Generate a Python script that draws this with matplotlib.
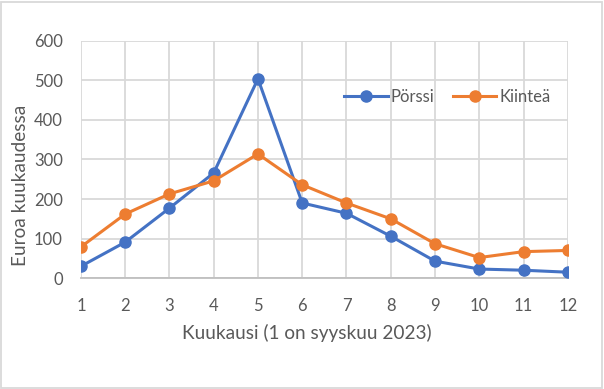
import matplotlib
matplotlib.use('Agg')
import matplotlib.pyplot as plt
from matplotlib.patches import Rectangle

months = [1, 2, 3, 4, 5, 6, 7, 8, 9, 10, 11, 12]
porssi = [30, 91, 177, 266, 504, 190, 164, 106, 43, 23, 20, 15]
kiintea = [79, 162, 213, 246, 314, 236, 190, 150, 87, 52, 67, 70]

BLUE = "#4472C4"
ORANGE = "#ED7D31"
TEXT = "#595959"
GRID = "#D9D9D9"

plt.rcParams['font.family'] = ['Lato', 'DejaVu Sans']

fig = plt.figure(figsize=(6.04, 3.89), dpi=100)
ax = fig.add_axes([0.134, 0.285, 0.806, 0.610])

ax.plot(months, porssi, color=BLUE, marker='o', markersize=8, linewidth=2.2, label="Pörssi", zorder=3)
ax.plot(months, kiintea, color=ORANGE, marker='o', markersize=8, linewidth=2.2, label="Kiinteä", zorder=3)

ax.set_xlim(1, 12)
ax.set_ylim(0, 600)
ax.set_xticks(months)
ax.set_yticks(range(0, 601, 100))
ax.grid(True, color=GRID, linewidth=1.3)
ax.set_axisbelow(True)
for side in ['left', 'right', 'top']:
    ax.spines[side].set_visible(False)
ax.spines['bottom'].set_color("#BFBFBF")
ax.spines['bottom'].set_linewidth(1.3)
ax.tick_params(length=0, labelsize=12, labelcolor=TEXT, pad=14)
ax.tick_params(axis='y', pad=13)

ax.set_xlabel("Kuukausi (1 on syyskuu 2023)", fontsize=13.7, color=TEXT)
ax.set_ylabel("Euroa kuukaudessa", fontsize=13.7, color=TEXT)
ax.xaxis.set_label_coords(0.464, -0.232)
ax.yaxis.set_label_coords(-0.125, 0.392)
ax.xaxis.label.set_va('center')
ax.yaxis.label.set_va('center')

leg = ax.legend(loc='upper left', bbox_to_anchor=(0.51, 0.86), ncol=2, frameon=False,
                fontsize=12, handlelength=2.6, columnspacing=1.1, handletextpad=0.2)
for t in leg.get_texts():
    t.set_color(TEXT)

fig.patches.append(Rectangle((0.002, 0.003), 0.994, 0.993, transform=fig.transFigure,
                             fill=False, edgecolor=GRID, linewidth=1.3))

fig.savefig("out.png", dpi=100)
